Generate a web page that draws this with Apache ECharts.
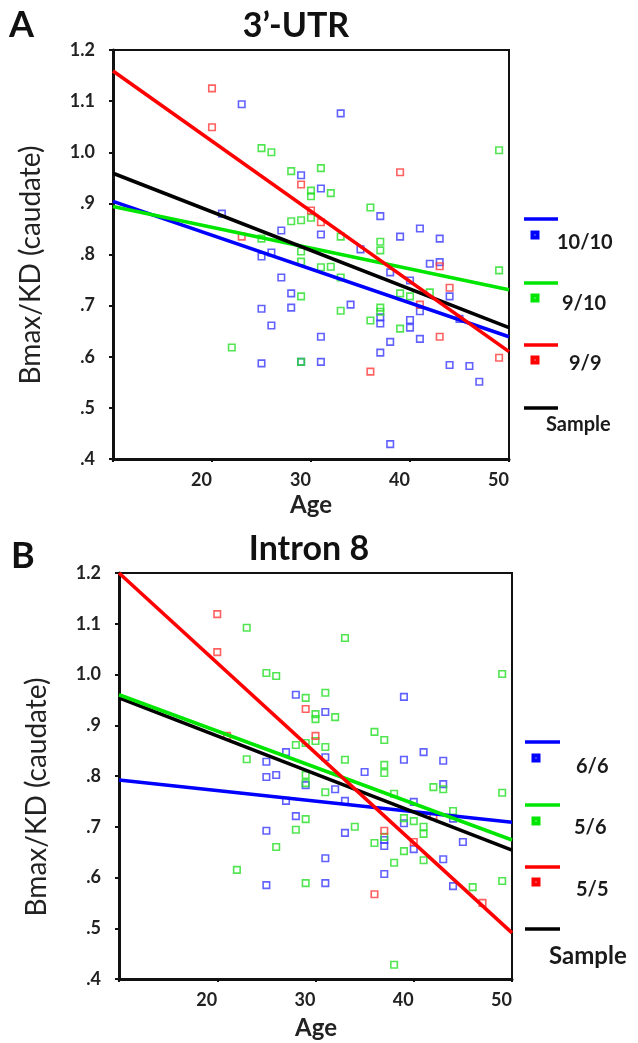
<!DOCTYPE html>
<html>
<head>
<meta charset="utf-8">
<script src="https://cdn.jsdelivr.net/npm/echarts@6/dist/echarts.min.js"></script>
<style>
html,body{margin:0;padding:0;background:#fff;}
#chart{width:638px;height:1043px;}
</style>
</head>
<body>
<div id="chart"></div>
<script>
// ---------- DATA ----------
// Panel A: 3'-UTR genotypes  [age, Bmax/KD]
const utr_10_10 = [[23,1.094],[29,0.955],[21,0.880],[27,0.847],[25,0.796],[26,0.804],[33,1.076],[31,0.929],[37,0.875],[41,0.851],[31,0.839],[39,0.835],[43,0.831],[35,0.810],[38,0.765],[40,0.749],[27,0.755],[28,0.724],[42,0.782],[43,0.785],[44,0.718],[45,0.674],[41,0.689],[34,0.702],[37,0.677],[37,0.665],[40,0.672],[40,0.657],[31,0.639],[38,0.629],[41,0.635],[37,0.608],[29,0.590],[31,0.590],[44,0.584],[46,0.582],[47,0.551],[38,0.429],[25,0.694],[28,0.696],[26,0.661],[25,0.587]];
const utr_9_10 = [[25,1.008],[26,1.000],[28,0.963],[30,0.925],[30,0.914],[28,0.865],[29,0.867],[30,0.872],[25,0.831],[29,0.806],[31,0.969],[32,0.920],[36,0.892],[33,0.835],[37,0.825],[37,0.808],[29,0.786],[31,0.775],[32,0.776],[33,0.755],[29,0.718],[39,0.724],[40,0.718],[49,1.004],[49,0.769],[42,0.726],[33,0.690],[37,0.696],[37,0.688],[36,0.671],[39,0.655],[29,0.590],[22,0.618]];
const utr_9_9 = [[20,1.125],[20,1.049],[29,0.937],[30,0.886],[23,0.835],[39,0.961],[31,0.863],[43,0.777],[44,0.735],[41,0.702],[43,0.639],[36,0.571],[49,0.598]];
// Panel B: Intron 8 genotypes
const in_6_6 = [[28,0.960],[27,0.847],[25,0.828],[25,0.798],[26,0.802],[39,0.956],[31,0.926],[31,0.837],[41,0.847],[39,0.832],[43,0.830],[35,0.808],[29,0.782],[32,0.774],[27,0.751],[33,0.751],[40,0.749],[28,0.721],[43,0.784],[44,0.716],[39,0.707],[33,0.688],[37,0.674],[37,0.662],[40,0.656],[45,0.670],[43,0.636],[31,0.638],[37,0.607],[31,0.589],[44,0.583],[25,0.692],[25,0.585]];
const in_5_6 = [[23,1.092],[25,1.003],[26,0.997],[29,0.954],[30,0.922],[30,0.912],[28,0.861],[29,0.865],[30,0.869],[23,0.833],[29,0.802],[33,1.072],[49,1.001],[31,0.964],[32,0.916],[31,0.857],[33,0.832],[36,0.887],[37,0.871],[37,0.822],[37,0.806],[29,0.786],[31,0.768],[38,0.765],[29,0.715],[42,0.778],[43,0.774],[44,0.731],[49,0.767],[39,0.717],[40,0.711],[41,0.700],[41,0.686],[34,0.700],[37,0.680],[36,0.668],[39,0.652],[41,0.634],[38,0.629],[29,0.589],[49,0.593],[46,0.581],[38,0.428],[28,0.694],[26,0.660],[22,0.615]];
const in_5_5 = [[20,1.119],[20,1.044],[29,0.932],[30,0.879],[21,0.879],[42,0.721],[37,0.692],[40,0.670],[36,0.567],[47,0.550]];
// Fit lines (values at the ends of the age range)
const fitAges = [10, 50];
const utrFitBlue  = [0.904, 0.639];
const utrFitGreen = [0.894, 0.731];
const utrFitRed   = [1.159, 0.610];
const utrFitBlack = [0.959, 0.657];
const inFitBlue  = [0.792, 0.709];
const inFitGreen = [0.960, 0.674];
const inFitRed   = [1.200, 0.491];
const inFitBlack = [0.954, 0.654];
// Axes
const xTicks = [10, 20, 30, 40, 50];
const yTicks = [0.4, 0.5, 0.6, 0.7, 0.8, 0.9, 1.0, 1.1, 1.2];
const titles = ['3’-UTR', 'Intron 8'];
const legendA = ['10/10', '9/10', '9/9', 'Sample'];
const legendB = ['6/6', '5/6', '5/5', 'Sample'];

// ---------- STYLE ----------
const FONT = 'Lato, "Open Sans", sans-serif';
const C = {blue:'#0000ff', green:'#00e600', red:'#ff0000', black:'#000000'};
const PC = {blue:'#3a3aff', green:'#26e026', red:'#ff3a3a'};

const chart = echarts.init(document.getElementById('chart'), null, {renderer:'canvas'});

function xAxisCfg(gi){
  return {
    type:'value', gridIndex:gi, min:xTicks[0], max:xTicks[xTicks.length-1], interval:10,
    splitLine:{show:false},
    axisLine:{show:true, onZero:false, lineStyle:{color:'#111', width:3}},
    axisTick:{show:true, length:3, lineStyle:{color:'#111', width:2}},
    axisLabel:{fontFamily:FONT, fontWeight:'bold', fontSize:18, color:'#222', margin:12, align:'right',
      showMinLabel:true, showMaxLabel:true,
      formatter:v => (v === xTicks[0] ? '' : String(v))}
  };
}
function yAxisCfg(gi){
  return {
    type:'value', gridIndex:gi, min:yTicks[0], max:yTicks[yTicks.length-1], interval:0.1,
    splitLine:{show:false},
    axisLine:{show:true, onZero:false, lineStyle:{color:'#111', width:3}},
    axisTick:{show:true, length:4, lineStyle:{color:'#111', width:2}},
    axisLabel:{fontFamily:FONT, fontWeight:'bold', fontSize:18, color:'#222', margin:18,
      padding:[11,0,0,0], showMinLabel:true, showMaxLabel:true,
      formatter:v => { const s = v.toFixed(1); return v < 1 ? s.replace(/^0/, '') : s; }}
  };
}
function scatter(gi, data, col){
  return {type:'scatter', xAxisIndex:gi, yAxisIndex:gi, data:data, symbol:'rect', symbolSize:6.5,
    itemStyle:{color:'rgba(255,255,255,0)', borderColor:col, borderWidth:1.6}, z:2, silent:true};
}
function fit(gi, vals, col, z){
  return {type:'line', xAxisIndex:gi, yAxisIndex:gi, data:fitAges.map((a,i)=>[a, vals[i]]),
    symbol:'none', lineStyle:{color:col, width:3.6}, z:z, silent:true, animation:false};
}
function legendGraphics(items, cols, ys, textPos, sizes){
  const g = [];
  items.forEach((t,i)=>{
    g.push({type:'line', shape:{x1:ys[i].lx1, y1:ys[i].ly, x2:ys[i].lx2, y2:ys[i].ly},
      style:{stroke:cols[i], lineWidth:3.6}});
    if (ys[i].my !== null) {
      g.push({type:'rect', shape:{x:ys[i].mx-2.5, y:ys[i].my-2.5, width:5, height:5},
        style:{fill:'#fff', stroke:cols[i], lineWidth:4}});
    }
    g.push({type:'text', x:textPos[i][0], y:textPos[i][1],
      style:{text:t, fontFamily:FONT, fontWeight:'bold', fontSize:sizes[i], fill:'#1a1a1a',
        textAlign:'left', textVerticalAlign:'middle'}});
  });
  return g;
}

const graphic = [
  {type:'text', x:9, y:25, style:{text:'A', fontFamily:FONT, fontWeight:'bold', fontSize:36, fill:'#111', textAlign:'left', textVerticalAlign:'middle'}},
  {type:'text', x:11, y:556, style:{text:'B', fontFamily:FONT, fontWeight:'bold', fontSize:36, fill:'#111', textAlign:'left', textVerticalAlign:'middle'}},
  {type:'text', x:296, y:26, style:{text:titles[0], fontFamily:FONT, fontWeight:'bold', fontSize:34, fill:'#111', textAlign:'center', textVerticalAlign:'middle'}},
  {type:'text', x:309, y:549, style:{text:titles[1], fontFamily:FONT, fontWeight:'bold', fontSize:34, fill:'#111', textAlign:'center', textVerticalAlign:'middle'}},
  {type:'text', x:31, y:265, rotation:Math.PI/2, style:{text:'Bmax/KD (caudate)', fontFamily:FONT, fontSize:28, fill:'#222', textAlign:'center', textVerticalAlign:'middle'}},
  {type:'text', x:37, y:797, rotation:Math.PI/2, style:{text:'Bmax/KD (caudate)', fontFamily:FONT, fontSize:28, fill:'#222', textAlign:'center', textVerticalAlign:'middle'}},
  {type:'text', x:311, y:505, style:{text:'Age', fontFamily:FONT, fontWeight:'bold', fontSize:24, fill:'#222', textAlign:'center', textVerticalAlign:'middle'}},
  {type:'text', x:316, y:1028, style:{text:'Age', fontFamily:FONT, fontWeight:'bold', fontSize:24, fill:'#222', textAlign:'center', textVerticalAlign:'middle'}}
].concat(
  legendGraphics(legendA, [C.blue, C.green, C.red, C.black],
    [{lx1:524,lx2:558,ly:219,mx:535,my:235},{lx1:524,lx2:558,ly:283,mx:535,my:298},{lx1:524,lx2:558,ly:345,mx:535,my:360},{lx1:524,lx2:558,ly:408,mx:0,my:null}],
    [[557,243],[562,304],[569,364],[546,425]], [20,20,20,20]),
  legendGraphics(legendB, [C.blue, C.green, C.red, C.black],
    [{lx1:525,lx2:560,ly:742,mx:536,my:758},{lx1:525,lx2:560,ly:805,mx:536,my:821},{lx1:525,lx2:560,ly:867,mx:536,my:882},{lx1:525,lx2:560,ly:929,mx:0,my:null}],
    [[576,767],[574,828],[576,890],[549,956]], [20,20,20,24])
);

const option = {
  animation:false,
  backgroundColor:'#fff',
  grid:[
    {left:113, top:50, width:396, height:409, show:true, borderColor:'#111', borderWidth:2, backgroundColor:'rgba(0,0,0,0)'},
    {left:119, top:573, width:393, height:406, show:true, borderColor:'#111', borderWidth:2, backgroundColor:'rgba(0,0,0,0)'}
  ],
  xAxis:[xAxisCfg(0), xAxisCfg(1)],
  yAxis:[yAxisCfg(0), yAxisCfg(1)],
  series:[
    scatter(0, utr_10_10, PC.blue), scatter(0, utr_9_10, PC.green), scatter(0, utr_9_9, PC.red),
    fit(0, utrFitBlue, C.blue, 3), fit(0, utrFitGreen, C.green, 4), fit(0, utrFitBlack, C.black, 5), fit(0, utrFitRed, C.red, 6),
    scatter(1, in_6_6, PC.blue), scatter(1, in_5_6, PC.green), scatter(1, in_5_5, PC.red),
    fit(1, inFitBlue, C.blue, 3), fit(1, inFitBlack, C.black, 4), fit(1, inFitGreen, C.green, 5), fit(1, inFitRed, C.red, 6)
  ],
  graphic:graphic
};
chart.setOption(option);
</script>
</body>
</html>
